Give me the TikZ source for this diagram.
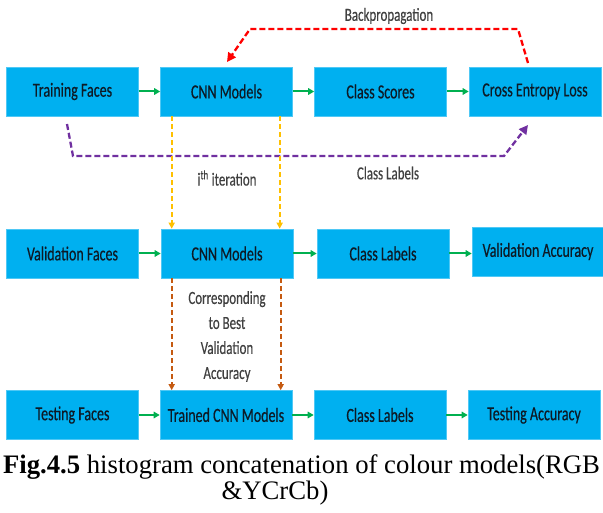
\documentclass[tikz,border=0pt]{standalone}
\usepackage{fontspec}
\setmainfont{Liberation Serif}
\newfontfamily\calib[FakeStretch=0.7,FakeBold=0.4]{Carlito}
\usetikzlibrary{arrows.meta,calc}
\definecolor{boxblue}{HTML}{00B0F0}
\definecolor{boxedge}{HTML}{4FC8F5}
\definecolor{boxtext}{HTML}{0D1A26}
\definecolor{labtext}{HTML}{404040}
\definecolor{arrgreen}{HTML}{00B050}
\definecolor{arrred}{HTML}{FF0000}
\definecolor{arrpurple}{HTML}{7030A0}
\definecolor{arryellow}{HTML}{FFC000}
\definecolor{arrorange}{HTML}{C55A11}
\tikzset{
  box/.style={fill=boxblue, draw=boxedge, line width=0.6pt, minimum width=132pt, minimum height=49pt, inner sep=0pt, text=boxtext, font=\calib\fontsize{20}{22}\selectfont},
  lab/.style={text=labtext, inner sep=0pt, font=\calib\fontsize{18.5}{21}\selectfont},
  garrow/.style={draw=arrgreen, line width=2pt, -{Triangle[length=6pt,width=6.5pt]}},
  redarrow/.style={draw=arrred, line width=2.3pt, dash pattern=on 6pt off 3pt, -{Triangle[length=9pt,width=9pt]}},
  purparrow/.style={draw=arrpurple, line width=2.3pt, dash pattern=on 6pt off 3pt, -{Triangle[length=9pt,width=9pt]}},
  yelarrow/.style={draw=arryellow, line width=2pt, dash pattern=on 5pt off 3pt, -{Triangle[length=6pt,width=6pt]}},
  orarrow/.style={draw=arrorange, line width=2pt, dash pattern=on 5pt off 3pt, -{Triangle[length=6pt,width=6pt]}},
}
\begin{document}
\begin{tikzpicture}[x=1pt,y=-1pt]
\useasboundingbox (0,0) rectangle (603,513);
% row 1
\node[box] (tf) at (72.5,91.5) {Training Faces};
\node[box] (cnn1) at (226.5,91.5) {CNN Models};
\node[box] (cs) at (380.5,91.5) {Class Scores};
\node[box] (cel) at (535,91.5) {Cross Entropy Loss};
% row 2
\node[box] (vf) at (72.5,253.5) {Validation Faces};
\node[box] (cnn2) at (227,253.5) {CNN Models};
\node[box] (cl2) at (383,253.5) {Class Labels};
\node[box] (va) at (538,251.5) {Validation Accuracy};
% row 3
\node[box] (tst) at (72.5,415) {Testing Faces};
\node[box] (tcnn) at (226,415) {Trained CNN Models};
\node[box] (cl3) at (380,415) {Class Labels};
\node[box] (ta) at (534,415) {Testing Accuracy};
% green arrows
\draw[garrow] (tf) -- (cnn1);
\draw[garrow] (cnn1) -- (cs);
\draw[garrow] (cs) -- (cel);
\draw[garrow] (vf) -- (cnn2);
\draw[garrow] (cnn2) -- (cl2);
\draw[garrow] (cl2.east) -- (va.west |- cl2.east);
\draw[garrow] (tst) -- (tcnn);
\draw[garrow] (tcnn) -- (cl3);
\draw[garrow] (cl3) -- (ta);
% backpropagation
\coordinate (bpA) at (528,63);
\coordinate (bpB) at (518,29);
\coordinate (bpC) at (250,29);
\coordinate (bpD) at (227,62);
\draw[redarrow] (bpA) -- (bpB) -- (bpC) -- (bpD);
\node[lab] (bp) at (389,16) {Backpropagation};
% class labels (purple)
\coordinate (clA) at (67,124);
\coordinate (clB) at (73,156);
\coordinate (clC) at (504,156);
\coordinate (clD) at (528,125);
\draw[purparrow] (clA) -- (clB) -- (clC) -- (clD);
\node[lab] (cll) at (388,173) {Class Labels};
% i-th iteration (yellow)
\draw[yelarrow] ($(cnn1.south west)+(11.5,0)$) -- ($(cnn2.north west)+(11,0)$);
\draw[yelarrow] ($(cnn1.south west)+(119.5,0)$) -- ($(cnn2.north west)+(119,0)$);
\node[lab] (ith) at (227,178) {i\textsuperscript{th} iteration};
% best validation (orange)
\draw[orarrow] ($(cnn2.south west)+(11,0)$) -- ($(tcnn.north west)+(12,0)$);
\draw[orarrow] ($(cnn2.south west)+(120,0)$) -- ($(tcnn.north west)+(121,0)$);
\node[lab, align=center] (best) at (227,336.5) {Corresponding\\[4pt]to Best\\[4pt]Validation\\[4pt]Accuracy};
% caption
\node[anchor=base, inner sep=0pt, font=\fontsize{26.7}{27}\selectfont] (cap1) at (301.5,473) {\textbf{Fig.4.5} histogram concatenation of colour models(RGB};
\node[anchor=base, inner sep=0pt, font=\fontsize{26.7}{27}\selectfont] (cap2) at (275,499) {\&YCrCb)};
\end{tikzpicture}
\end{document}
